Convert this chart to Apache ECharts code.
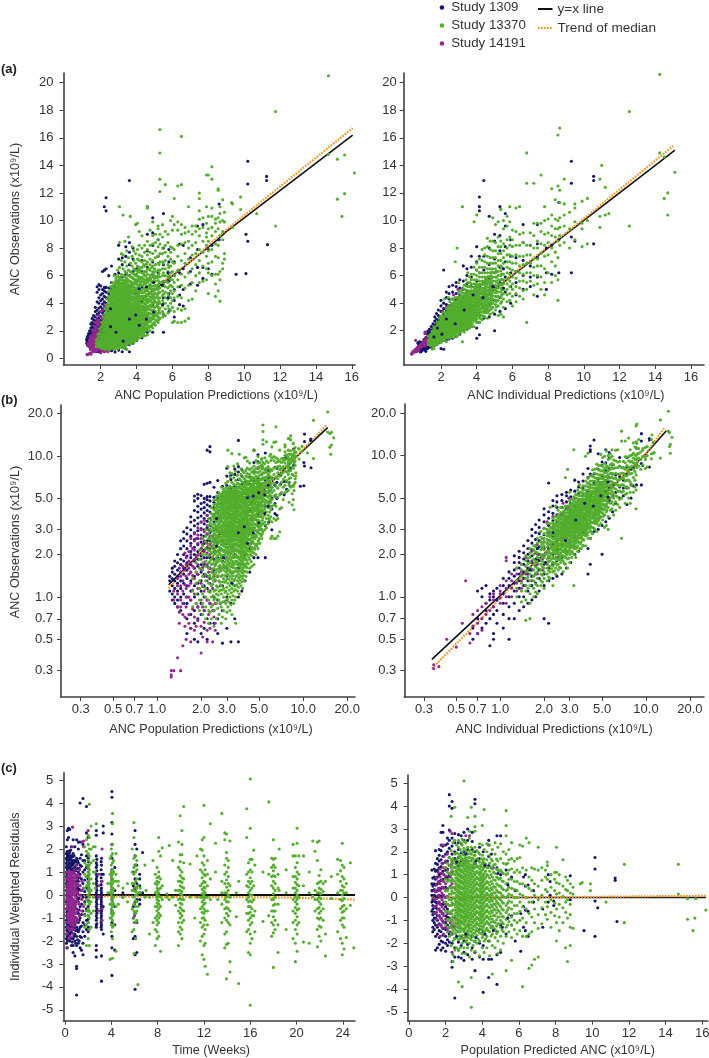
<!DOCTYPE html>
<html><head><meta charset="utf-8">
<style>html,body{margin:0;padding:0;background:#fff}#c{width:709px;height:1058px}</style>
<script src="https://cdn.jsdelivr.net/npm/echarts@6/dist/echarts.min.js"></script></head>
<body><div id="c"></div>
<script>
// Rows are [x, y, y, y ...].
const popObs1309=[
[1.22,1.1,1.3,1.4],[1.27,.95,1.05,1.2,1.35,1.5,1.6],[1.32,.9,1,1.15,1.3,1.45,1.65,1.8],[1.38,.85,.95,1.1,1.25,1.4,1.55,1.75,2],
[1.45,.8,1,1.15,1.3,1.5,1.7,1.85,2.2,2.5],[1.52,.9,1.05,1.25,1.45,1.6,1.8,2,2.3,2.6,2.9],[1.6,.55,.7,.9,1,1.2,1.35,1.55,1.75,1.95,2.2,2.5,2.8,3.1],
[1.7,.6,.75,.95,1.1,1.3,1.5,1.7,1.9,2.1,2.4,2.7,3,3.4,3.7],[1.8,.5,.65,.8,1,1.2,1.4,1.6,1.8,2,2.25,2.55,2.85,3.2,3.5,4.1,4.8,5.2],
[1.9,.48,.7,.85,1.05,1.25,1.45,1.65,1.85,2.1,2.35,2.6,2.95,3.3,3.65,4,4.4,5,5.35],[2,.55,.75,.9,1.1,1.3,1.5,1.7,1.95,2.2,2.45,2.75,3.05,3.4,3.75,4.2,4.6,5.25],
[2.1,.6,.8,1,1.2,1.45,1.7,1.9,2.15,2.4,2.7,3,3.3,3.6,3.95,4.3,4.7,5,6.3],[2.2,.5,.7,.95,1.15,1.4,1.65,1.9,2.2,2.5,2.8,3.1,3.45,3.8,4.1,4.5,4.9,5.15,6.4,11],
[2.3,.65,.9,1.1,1.35,1.6,1.9,2.2,2.5,2.85,3.2,3.6,4,4.4,4.8,5.15,6.5,10.7,11.65],[2.45,.65,.8,1,1.3,1.55,1.85,2.2,2.6,3,3.4,3.85,4.3,4.7,5.1,6],
[2.6,.55,.7,.95,1.4,1.9,2.4,3,3.5,4,4.5,5,5.5,6.7],[2.8,.47,.8,1.2,1.8,2.5,3.2,3.9,4.6,5.2,6.1],[3,.6,1,1.6,2.4,3.2,4,4.8,5.5,6.2,7.2,8.2],
[3.2,.48,.9,1.5,2.3,3.3,4.2,5.1,5.9,6.8,7.3],[3.4,.7,1.2,2,2.8,3.6,4.5,5.3,6.1,7.4,8.1],[3.6,.48,1,1.6,2.5,3.4,4.3,5.2,6,6.8,7.7,8.4,12.9],
[3.8,1.1,1.7,2.6,3.5,4.4,5.4,6.3,7.2,8],[4,1.3,2,2.9,3.8,4.7,5.6,6.5],[4.3,1.5,2.2,3.1,4.1,5.2,6.3,7.1],[4.6,1.9,2.7,3.6,4.6,5.7,6.6,7.8,9,11],
[4.9,1.9,2.9,3.9,5,6.1,7,8.2,9.1,10.2],[5.2,3,4,5.2,6.2,7.4,8.6],[5.5,1.9,3.2,4.4,5.6,6.8,8,10.5],[5.8,3.4,4.7,5.6,7,7.9],[6.1,3,4.2,5,6,7],[6.4,3.9,4.6,5.2,6.2,8.3],
[6.6,3.8,5,6.5,8.2],[7,5.4,6.3,7.3],[7.4,5.3,6.6,7.9,9.6],[7.7,5.8,6.6,9.7],[8,6.5,7.9],[8.2,6.1,8.2],[8.6,8.6,11.2],[9.55,6.1],[10.1,6.15,9],[10.2,8.5,12.65,14.3],[11.25,12.9,13.2],[11.3,8.25]];
const popObs1309Top=[[2.55,2.3,3.6],[2.85,1.9],[3.25,1.25],[3.6,2.85],[3.95,3.15],[4.15,2.4,5.05],[4.55,2.85,5.2],[4.95,3.35,5.5],[5.45,3.9,5.3],[5.75,4.4,6.2]];
const popObs14191=[
[1.25,.27,.28,.3],[1.3,.3,.95,1.1],[1.38,.37,.85,1.05,1.2,1.35],[1.45,.3,.85,.95,1.2,1.4,1.5],[1.5,.45,.75,.9,1.1,1.3,1.65],[1.58,.5,.85,1,1.15,1.4,1.7,1.9],
[1.65,.65,.75,1,1.2,1.45,1.6,1.8,2.1],[1.7,.48,.6,.95,1.25,1.5,1.75,2,2.3,2.6],[1.8,.58,.72,1.05,1.35,1.6,1.85,2.15,2.5,2.8],[1.9,.68,.85,1.15,1.45,1.7,2,2.4,2.75,3.1],
[2,.4,.62,.95,1.25,1.55,1.85,2.2,2.6,3,3.4],[2.1,.66,.8,1.1,1.4,1.75,2.1,2.5,2.9,3.5],[2.2,.48,.58,.95,1.3,1.7,2.05,2.4,2.8,3.2,3.8],[2.3,.6,.9,1.25,1.6,2,2.35,2.7,3,3.6],
[2.4,.48,.8,1.15,1.5,1.9,2.3,2.7],[2.5,.58,.65,.9,1.3,1.7,2.1,2.5,3.05],[2.7,.9,1.2,1.6,2.15],[3,.95,1.4,1.9,2.4],[3.3,1.5,2.2],[3.8,1.8,2.6,3.2],[4.4,2.4,3.6],
[1.42,.65,.78,1.6],[1.55,.62,.72,1.22,1.55,2.05],[1.75,.82,1.12,1.42,1.65,2.2],[1.85,.62,.9,1.25,1.5,1.95,2.6],[2.05,.52,.85,1.18,1.62,2.35],[2.25,.75,1.1,1.5,2.2,3],[2.45,.72,1.4,2.2]];
const popObs13370=[
[1.75,.85,1.1,1.35],[1.85,.9,1.05,1.25,1.5,1.75],[1.95,.8,.95,1.15,1.3,1.6,1.85,2.15],[2.05,.75,.9,1.05,1.2,1.4,1.55,1.75,2,2.3,2.6],
[2.15,.7,.85,1,1.15,1.3,1.45,1.65,1.8,2,2.2,2.45,2.7,3],[2.25,.65,.8,.95,1.1,1.25,1.4,1.6,1.75,1.95,2.15,2.35,2.6,2.85,3.2,3.6],
[2.35,.7,.85,1,1.2,1.35,1.5,1.7,1.85,2.05,2.25,2.45,2.7,2.95,3.25,3.5,3.9,4.3],[2.45,.62,.8,.95,1.1,1.3,1.45,1.6,1.8,2,2.15,2.35,2.55,2.8,3.05,3.3,3.6,3.85,4.15,4.5,4.85],
[2.55,.7,.9,1.05,1.2,1.4,1.55,1.75,1.9,2.1,2.3,2.5,2.7,2.9,3.15,3.4,3.65,3.95,4.25,4.55,4.9,5.2],[2.65,.75,.95,1.1,1.3,1.5,1.65,1.85,2.05,2.25,2.45,2.65,2.85,3.1,3.3,3.55,3.8,4.05,4.35,4.65,4.95,5.25,5.5],
[2.75,.65,.85,1.05,1.2,1.4,1.6,1.8,1.95,2.15,2.35,2.55,2.8,3,3.2,3.45,3.7,3.95,4.2,4.45,4.75,5.05,5.35,6],[2.85,.8,1,1.15,1.35,1.55,1.7,1.9,2.1,2.3,2.5,2.7,2.9,3.15,3.35,3.6,3.85,4.1,4.35,4.6,4.85,5.15,5.45,5.8],
[2.95,.7,.9,1.1,1.3,1.5,1.65,1.85,2.05,2.25,2.45,2.65,2.85,3.05,3.25,3.5,3.75,4,4.25,4.5,4.75,5,5.3,5.6,5.95,6.4],[3.05,.85,1.05,1.25,1.45,1.6,1.8,2,2.2,2.4,2.6,2.8,3,3.2,3.4,3.65,3.9,4.15,4.4,4.65,4.9,5.2,5.5,5.85,6.6,8.4,11],
[3.15,.8,1,1.2,1.4,1.55,1.75,1.95,2.15,2.35,2.55,2.75,2.95,3.15,3.35,3.6,3.85,4.1,4.35,4.6,4.85,5.1,5.4,5.7,6.1,7.6,7.1],[3.25,.75,.95,1.15,1.35,1.5,1.7,1.9,2.1,2.3,2.5,2.7,2.9,3.1,3.3,3.55,3.8,4.05,4.3,4.55,4.8,5.05,5.3,5.65,6,6.5,7.5,10.4],
[3.35,.9,1.1,1.3,1.5,1.7,1.9,2.1,2.3,2.5,2.7,2.9,3.1,3.3,3.5,3.75,4,4.25,4.5,4.75,5,5.25,5.55,5.9,6.3,7,8.5],[3.45,.65,1,1.2,1.4,1.6,1.8,2,2.2,2.4,2.6,2.8,3,3.2,3.45,3.7,3.95,4.2,4.45,4.7,4.95,5.2,5.5,5.8,6.2,6.7,7.8],
[3.55,1.1,1.3,1.5,1.7,1.9,2.1,2.3,2.5,2.7,2.9,3.1,3.35,3.6,3.85,4.1,4.35,4.6,4.85,5.1,5.35,5.65,6,6.4,7.3,8.8],[3.65,1.05,1.25,1.45,1.65,1.85,2.05,2.25,2.45,2.65,2.85,3.05,3.25,3.5,3.75,4,4.25,4.5,4.75,5,5.3,5.6,5.95,6.3,6.9,10.3],
[3.75,1.2,1.4,1.6,1.8,2,2.2,2.4,2.6,2.8,3,3.2,3.45,3.7,3.95,4.2,4.45,4.7,4.95,5.2,5.5,5.85,6.2,6.7,7.4,8.1],[3.85,1.15,1.35,1.55,1.75,1.95,2.15,2.35,2.55,2.75,2.95,3.15,3.4,3.65,3.9,4.15,4.4,4.65,4.9,5.15,5.45,5.75,6.1,6.5,7.1,7.8],
[3.95,1.3,1.5,1.7,1.9,2.1,2.3,2.5,2.7,2.9,3.1,3.35,3.6,3.85,4.1,4.35,4.6,4.85,5.1,5.4,5.7,6,6.4,6.9,7.6,9.7],[4.05,1.4,1.65,1.85,2.05,2.25,2.45,2.65,2.85,3.05,3.3,3.55,3.8,4.05,4.3,4.55,4.8,5.05,5.35,5.65,5.95,6.3,6.7,7.2,7.9,9.8],
[4.15,1.5,1.75,2,2.2,2.4,2.6,2.8,3,3.25,3.5,3.75,4,4.25,4.5,4.75,5,5.3,5.6,5.9,6.25,6.6,7.1,7.5,8.2,9.2],[4.3,1.6,1.85,2.1,2.3,2.55,2.8,3,3.25,3.5,3.75,4,4.25,4.5,4.75,5,5.3,5.6,5.9,6.2,6.6,7,7.4,8,8.9],
[4.45,1.65,1.95,2.25,2.5,2.75,3,3.25,3.5,3.75,4,4.25,4.5,4.8,5.1,5.4,5.7,6,6.3,6.7,7.1,7.7,8.2],[4.6,1.7,2.05,2.4,2.7,3,3.3,3.55,3.8,4.05,4.3,4.6,4.9,5.2,5.5,5.8,6.1,6.5,7,7.5,7.9,8.5,10.9,11],
[4.75,2,2.35,2.65,2.95,3.25,3.55,3.85,4.15,4.45,4.75,5.05,5.35,5.65,6,6.4,6.8,7.2,7.7,8.2,9.3],[4.9,2.2,2.5,2.85,3.15,3.45,3.75,4.05,4.35,4.65,4.95,5.25,5.55,5.9,6.3,6.7,7.1,7.6,8.3,8.9,9.9],
[5.05,2.4,2.8,3.1,3.4,3.75,4.1,4.4,4.7,5,5.3,5.6,5.95,6.3,6.8,7.3,7.8,8.4,9],[5.2,2.6,3,3.3,3.7,4,4.35,4.7,5,5.3,5.65,6,6.4,6.9,7.4,8.1,8.6,9.4,9.6],
[5.3,2.9,3.3,3.65,4,4.4,4.8,5.1,5.5,5.9,6.4,7,7.6,8.3,9,12.1,13,14.9,16.6],[5.45,3,3.4,3.8,4.2,4.55,4.9,5.25,5.6,6,6.5,7,7.6,8,8.8,9.7],[5.6,3.1,3.6,4,4.4,4.8,5.2,5.6,6,6.5,7.1,7.7,8.2,9.2,12.6],
[5.75,3.3,3.8,4.3,4.7,5.1,5.5,5.9,6.3,6.8,7.4,8.4,9],[5.9,3.5,4,4.4,4.9,5.3,5.7,6.2,6.7,7.2,7.7,8.1,10],[6,2.6,3.7,4.2,4.7,5.2,5.7,6.3,7,8,9.3,10.3],[6.1,2.7,3.4,4.4,4.9,5.5,6,6.9,7.9,9.7,11.6],
[6.3,2.6,3.6,4.5,5.2,5.7,6.4,7.4,8.2,9.3,9.9,12.5],[6.5,2.6,3.5,4.4,5.3,6.1,7.1,8.3,9,9.7,12.6,16.1],[6.7,2.7,3.6,5.1,5.9,6.9,7.6,8.4,9.1,9.5],[6.9,2.9,4.2,5.3,6.2,7.2,8,8.5,9.2,11],
[7.1,4.3,5.5,6.5,7.5,8.2,9,9.6],[7.3,4.9,6,6.8,7.6,8.4,9.2,9.6],[7.5,5.5,6.2,7.1,7.9,8.9,9.4,10.1,10.7,11.6,12],[7.7,5.6,6.7,7.7,8.5,9.5,10.2],[7.9,5.7,6.5,7.4,8.2,8.8,9.1,9.8,11,13.3],
[8,4.7,6.2,6.9,7.8,8.5,9.4,10.3,13.3],[8.2,6,7,7.9,8.9,9.5,10.3,10.9,13,13.9],[8.4,4.5,5.4,6.1,7.4,8.3,9.2,10.1,9.8],[8.55,4.9,6.1,7.3,8.2,9.4,10.2,12.2,12.3],[8.65,4.15,5.7,6.3,8.9,9.9,10.5,11],[8.8,6.5,6.9,8.6,9.2,10,11.5],
[8.9,7.2,7.6,9.9,10.6],[9.3,11.3],[9.35,9.5,11.2],[9.8,10.8,11.7],[10.7,10.5],[11.75,9.6,17.9],[14.7,14.8,20.5],[15.2,14.45,11.55],[15.45,10.3],[15.6,14.75,11.95],[16.15,13.45],
[2.3,.78,1.08,1.42,1.78,2.13,2.58,3.03,3.37],[2.4,.88,1.23,1.57,1.93,2.28,2.62,3.12,3.72],[2.5,.98,1.33,1.67,2.03,2.43,2.77,3.23,3.77,4.3],[2.6,.83,1.17,1.58,1.97,2.37,2.73,3.03,3.47,3.88,4.4,4.8],[2.7,.91,1.27,1.68,2.02,2.47,2.92,3.37,3.73,4.13,4.58,5.1],
[2.8,.72,1.12,1.43,1.77,2.17,2.58,3.02,3.43,3.97,4.27,4.72,5.3],[2.9,.93,1.27,1.62,1.98,2.37,2.78,3.22,3.68,4.07,4.55,5.02,5.62],[3,.78,1.17,1.53,1.88,2.28,2.72,3.12,3.58,4.03,4.42,4.88,5.38],[3.1,.92,1.33,1.68,2.07,2.48,2.87,3.28,3.72,4.27,4.73,5.28,5.9],[3.2,.88,1.28,1.63,2.03,2.43,2.83,3.23,3.67,4.22,4.72,5.23],
[3.3,1.02,1.42,1.78,2.18,2.58,2.97,3.42,3.88,4.38,4.92,5.47],[3.4,.95,1.33,1.72,2.13,2.53,2.93,3.37,3.83,4.33,4.83,5.4],[3.5,1.22,1.58,1.97,2.38,2.78,3.18,3.63,4.08,4.58,5.07,5.72],[3.6,1.17,1.55,1.93,2.33,2.73,3.13,3.58,4.03,4.53,5.03,5.58],[3.7,1.32,1.72,2.12,2.52,2.92,3.33,3.78,4.27,4.78,5.33,5.9],
[3.8,1.28,1.68,2.07,2.47,2.87,3.27,3.72,4.22,4.72,5.23,5.83],[3.9,1.42,1.82,2.22,2.62,3.02,3.42,3.88,4.38,4.88,5.42],[4,1.52,1.93,2.33,2.73,3.12,3.53,3.97,4.42,4.92,5.48,6.12],[4.1,1.62,2.02,2.43,2.83,3.22,3.67,4.13,4.62,5.12,5.72,6.4],[4.2,1.72,2.13,2.53,2.93,3.37,3.83,4.28,4.78,5.28,5.78,6.4],
[4.4,1.78,2.17,2.63,3.08,3.53,4.02,4.52,5.03,5.53,6.13,6.8],[4.55,2.2,2.62,3.12,3.62,4.12,4.62,5.08,5.65,6.3,6.85],[4.7,2.28,2.78,3.28,3.78,4.28,4.78,5.28,5.82,6.5],[4.85,2.38,2.95,3.45,3.95,4.48,4.98,5.52,6.1,6.6],[5,2.6,3.2,3.7,4.2,4.75,5.25,5.8,6.5],[5.25,2.8,3.5,4.15,4.8,5.45,6.15,6.8],[5.5,3.25,4,4.65,5.4,6.2,6.9],[5.8,3.6,4.5,5.2,6,6.6],
[2.42,1.02,1.38,1.72,2.08,2.47,2.93],[2.52,1.12,1.48,1.82,2.23,2.62,3.08,3.52,4.02],[2.62,1.03,1.42,1.78,2.13,2.57,2.93,3.22,3.67,4.12,4.6],[2.72,1.12,1.53,1.88,2.22,2.67,3.12,3.57,3.87,4.33,4.88],[2.82,.92,1.28,1.63,1.97,2.4,2.78,3.23,3.67,4.17,4.52,4.97,5.57],[2.92,1.08,1.42,1.77,2.15,2.55,2.95,3.42,3.87,4.28,4.78,5.22],
[3.02,.97,1.35,1.72,2.1,2.5,2.9,3.32,3.77,4.22,4.62,5.08,5.68],[3.12,1.12,1.52,1.87,2.27,2.67,3.07,3.47,3.92,4.47,4.93,5.48],[3.22,1.07,1.47,1.82,2.22,2.62,3.02,3.42,3.87,4.42,4.92,5.43],[3.32,1.22,1.62,1.98,2.38,2.78,3.18,3.62,4.08,4.58,5.12,5.67],[3.42,1.13,1.52,1.92,2.33,2.72,3.13,3.57,4.03,4.53,5.03,5.6],[3.52,1.42,1.78,2.17,2.58,2.98,3.38,3.83,4.28,4.78,5.27],
[3.62,1.37,1.75,2.13,2.53,2.93,3.33,3.78,4.23,4.73,5.23],[3.72,1.52,1.92,2.32,2.72,3.12,3.53,3.98,4.47,4.98,5.53],[3.82,1.48,1.88,2.27,2.67,3.07,3.47,3.92,4.42,4.92,5.43],[3.92,1.62,2.02,2.42,2.82,3.22,3.62,4.08,4.58,5.08,5.62],[4.02,1.72,2.13,2.53,2.93,3.32,3.73,4.17,4.62,5.12,5.68],[4.12,1.82,2.22,2.63,3.03,3.42,3.87,4.33,4.82,5.32,5.92],
[4.22,1.92,2.33,2.73,3.13,3.57,4.03,4.48,4.98,5.48],[4.35,2,2.42,2.88,3.33,3.78,4.27,4.77,5.28,5.78],[4.5,2.08,2.48,2.95,3.43,3.92,4.42,4.92,5.43,5.97],[4.65,2.18,2.6,3.1,3.58,4.08,4.58,5.08,5.62],[4.8,2.3,2.72,3.22,3.72,4.22,4.72,5.22,5.78],[4.95,2.5,3,3.5,4,4.52,5.02,5.58,6.15],[5.15,2.72,3.2,3.85,4.55,5.15,5.85]];
const indObs1309=[
[.65,.5,.6],[.7,.55,.7,1.1],[.75,.6,1.15,1],[.8,.65,.8,.9,1.2],[.85,.45,.7,.95,1.05],[.9,.5,.55,.75,.85,1,1.1],[.95,.65,.8,.95,1.15],[1.05,.6,.75,.9,1.05,1.2,1.35],[1.15,.5,.7,.85,1,1.2,1.35,1.5],
[1.25,.7,.9,1.1,1.25,1.4,1.55,1.75,1.95],[1.35,.8,1,1.15,1.3,1.45,1.6,1.75,1.9,2.1],[1.45,.85,1,1.2,1.35,1.5,1.7,1.85,2.05,2.3],[1.55,.9,1.1,1.3,1.45,1.6,1.8,2,2.2,2.5],[1.65,.95,1.2,1.4,1.55,1.75,1.95,2.15,2.4,2.7,3],
[1.75,1,1.25,1.45,1.65,1.85,2.05,2.3,2.55,2.85,3.25],[1.85,1.1,1.35,1.55,1.8,2,2.25,2.5,2.8,3.1,3.5],[2,.7,1.2,1.45,1.7,1.95,2.2,2.45,2.75,3.05,3.4,3.8,4.2],[2.15,.65,1.3,1.6,1.9,2.2,2.5,2.85,3.2,3.6,4,6.4],
[2.3,1.35,1.7,2,2.35,2.7,3.05,3.45,3.9,4.4,4.8],[2.45,1.4,1.8,2.15,2.55,2.95,3.35,3.8,4.3,4.7,5.2],[2.65,1.45,1.9,2.35,2.8,3.3,3.8,4.3,4.8,5.3],[2.85,1.6,2.1,2.6,3.1,3.7,4.2,4.7,5.2,5.5],[3.05,1.75,2.3,2.9,3.5,4.1,4.6,5.1,5.7],
[3.25,2,2.6,3.2,3.8,4.4,5,5.6,6.7],[3.45,2.1,2.8,3.5,4.1,4.8,5.4,6,6.5],[3.7,2.3,2.9,3.6,4.4,5.2,5.9,6.6,7.4],[4,1.45,2.2,3.1,3.9,4.8,5.6,6.4,7,8.1],[4.15,1.7,2.6,3.4,4.3,5.2,6.2,7.4,10.7,11,11.7],
[4.4,2.9,3.7,4.6,5.5,6.4,7.4,12.9],[4.7,3,4,4.9,5.8,6.8,8,10.3],[5,2,3.2,4.2,5.2,6.2,7.2,8.5,9],[5.3,3.4,4.4,5.5,6.6,7.8,8.9,11],[5.6,3.6,4.8,5.9,7,8.1,9.6,10.5],[5.9,4,5.2,6.2,7.4,8.6],
[6.2,4.6,5.5,6.3,7.3],[6.6,5,6,7.1,8.4,9.7],[7,5.2,5.9,6.7,8.2],[7.4,4.5,5.9,7.3,8.3,9.7],[7.9,5,6.2,8],[8.2,6.1,8.2],[8.6,6.2,8.6,11.3],[9.3,6.2,8.8,14.3,12.7],[9.5,8.5],[10.55,8.3,12.9,13.2]];
const indObs1309Top=[[1.6,1.55],[1.8,2.2],[2.05,1.75],[2.3,2.85],[2.8,2.5],[3.3,3.5],[3.8,4.6],[4.35,4.4],[4.9,5.2],[5.5,5.1,6.5]];
const indObs14191=[
[.35,.31,.33],[.38,.32],[.43,.5],[.5,.44],[.55,.65],[.58,1.3],[.62,.55,.47],[.65,.62,.75],[.7,.55,.65,.8],[.75,.58,.7,.85],[.8,.75,.9],[.85,.8,1],[.9,.85,.95,1.05],[1,.9,.98,1.05,1.1,1.2],[1.1,.9,1,1.15,1.3,1.8,1.9],
[1.2,1,1.15,1.3,1.45],[1.3,1.1,1.25,1.45,1.6],[1.4,1.15,1.3,1.5,1.7],[1.5,1.2,1.45,1.65,1.9],[1.65,1.3,1.55,1.8,2.1],[1.8,1.45,1.7,2,2.35],[1.95,1.55,1.85,2.2,2.6],[2.1,1.7,2.05,2.4,2.85,3.4],[2.3,1.75,2.15,2.6,3.1,3.7],[2.5,1.9,2.35,2.85,3.4,3.8],[2.7,2.1,2.6,3.2,3.9,4.6],[2.95,2.4,3,3.6,4.3,5],[3.3,2.6,3.2,3.9],[3.8,2.9,3.6,4.4],[4.6,3.6,4.4]];
const indObs13370=[
[1.3,1,1.15,1.3,1.6],[1.4,.92,1.1,1.25,1.4,1.55,1.7],[1.5,.68,.95,1.1,1.2,1.35,1.5,1.65,1.8,1.95],[1.6,.7,.9,1.05,1.2,1.3,1.45,1.6,1.75,1.9,2.05,2.2],[1.7,1,1.15,1.3,1.4,1.55,1.7,1.85,2,2.15,2.3],[1.8,1.05,1.2,1.35,1.5,1.6,1.75,1.9,2.05,2.2,2.4,2.6],
[1.9,1.2,1.3,1.45,1.55,1.7,1.85,2,2.15,2.3,2.45,2.65,2.9],[2,1.15,1.35,1.5,1.6,1.75,1.9,2,2.15,2.3,2.45,2.6,2.8,3.05],[2.1,1.3,1.45,1.6,1.7,1.85,2,2.1,2.25,2.4,2.55,2.7,2.85,3,3.3],[2.2,1.35,1.5,1.65,1.8,1.95,2.05,2.2,2.35,2.5,2.65,2.8,2.95,3.1,3.3,4.3],
[2.3,1.2,1.5,1.65,1.75,1.9,2.05,2.15,2.3,2.45,2.6,2.75,2.9,3.05,3.2,3.35,3.6],[2.4,1.45,1.6,1.75,1.9,2,2.15,2.3,2.45,2.55,2.7,2.85,3,3.15,3.3,3.5,3.7,4.4],[2.5,1.55,1.7,1.85,2,2.1,2.25,2.4,2.55,2.7,2.85,3,3.15,3.3,3.45,3.6,3.8,4.1],[2.6,1.6,1.75,1.9,2.05,2.2,2.35,2.5,2.65,2.8,2.95,3.1,3.25,3.4,3.55,3.7,3.95,4.3],
[2.7,1.5,1.8,1.95,2.1,2.25,2.4,2.55,2.7,2.85,3,3.15,3.3,3.45,3.6,3.8,4,4.25],[2.8,1.7,1.9,2.05,2.2,2.35,2.5,2.65,2.8,2.95,3.1,3.25,3.4,3.55,3.7,3.9,4.1,4.4,7],[2.9,1.6,1.85,2.05,2.25,2.4,2.55,2.7,2.85,3,3.15,3.3,3.45,3.6,3.75,3.95,4.15,4.4,8],[3,1.75,2,2.2,2.35,2.5,2.65,2.8,2.95,3.1,3.25,3.4,3.55,3.7,3.85,4,4.2,4.45,4.8,5.5],
[3.1,1.9,2.1,2.3,2.45,2.6,2.75,2.9,3.05,3.2,3.35,3.5,3.65,3.8,3.95,4.15,4.35,4.6,4.9],[3.2,1.2,2,2.2,2.35,2.5,2.7,2.85,3,3.15,3.3,3.45,3.6,3.75,3.9,4.05,4.25,4.5,4.75,5.1,11],[3.3,1.9,2.2,2.4,2.55,2.7,2.9,3.05,3.2,3.35,3.5,3.65,3.8,3.95,4.1,4.3,4.5,4.7,5,5.3],[3.4,2.1,2.3,2.5,2.7,2.85,3,3.2,3.35,3.5,3.65,3.8,3.95,4.1,4.3,4.5,4.7,4.95,5.25,5.7],
[3.5,2.2,2.4,2.6,2.75,2.95,3.1,3.3,3.45,3.6,3.8,3.95,4.1,4.3,4.5,4.7,4.9,5.2,5.5,6.2],[3.6,2.2,2.45,2.65,2.85,3.05,3.25,3.4,3.6,3.75,3.95,4.1,4.3,4.5,4.7,4.9,5.2,5.5,5.9],[3.7,2.3,2.55,2.75,2.95,3.15,3.35,3.55,3.7,3.9,4.1,4.3,4.5,4.7,4.9,5.15,5.4,5.7,6.1],[3.85,2.3,2.7,2.9,3.1,3.3,3.5,3.7,3.9,4.1,4.3,4.5,4.7,4.9,5.15,5.4,5.7,6.1,6.6,9.9],
[4,2.6,2.85,3.1,3.3,3.5,3.7,3.9,4.1,4.3,4.5,4.7,4.9,5.15,5.4,5.7,6,6.4,6.9,10.4],[4.15,2.6,2.95,3.2,3.4,3.65,3.85,4.05,4.25,4.45,4.65,4.85,5.1,5.35,5.6,5.9,6.2,6.6,7.2],[4.3,2.8,3.1,3.35,3.6,3.8,4,4.2,4.4,4.65,4.85,5.1,5.35,5.6,5.9,6.2,6.6,7.1,7.9],[4.45,3,3.3,3.5,3.75,4,4.2,4.4,4.65,4.9,5.1,5.35,5.6,5.9,6.2,6.6,7,7.5,8],
[4.6,2.9,3.3,3.6,3.9,4.15,4.4,4.65,4.9,5.15,5.4,5.65,5.9,6.2,6.5,6.9,7.4,8.1,8.7],[4.75,3.2,3.5,3.8,4.1,4.35,4.6,4.85,5.1,5.35,5.6,5.9,6.2,6.5,6.9,7.3,7.9,8.5],[4.9,3.3,3.7,4,4.3,4.55,4.8,5.05,5.3,5.6,5.9,6.2,6.5,6.9,7.3,7.8,8.5,10.2],[5.05,3.5,3.9,4.2,4.5,4.75,5,5.3,5.6,5.9,6.2,6.5,6.9,7.3,7.8,8.4,9.7],
[5.2,3.1,3.8,4.2,4.5,4.8,5.1,5.4,5.7,6,6.3,6.7,7.1,7.6,8.1,8.8,9.9],[5.35,3.2,4,4.4,4.8,5.1,5.4,5.7,6,6.35,6.7,7.1,7.6,8.1,8.5,10.8],[5.5,3,3.7,4.3,4.7,5,5.4,5.7,6.1,6.5,6.9,7.3,7.8,8.3,9.4,10],[5.7,4.1,4.6,5,5.4,5.8,6.2,6.6,7,7.5,8,8.6,9.6,10.3],[5.85,4.2,4.7,5.2,5.6,6.1,6.5,7,7.5,8.2,8.8,9.9,11],
[6,3.8,4.5,5,5.4,5.9,6.4,6.9,7.4,8.1,8.6,9.3],[6.2,4.1,4.7,5.2,5.8,6.3,6.9,7.5,8.2,9.2,10.9],[6.4,4.5,5.1,5.6,6.2,6.7,7.4,8.2,9,11],[6.6,4.3,4.9,5.6,6.1,6.8,7.4,8.4,9.1],[6.8,2.6,5,5.5,6.2,6.9,7.5,8.2,12.7,14.9],[7,5.6,6.2,6.9,7.5,8.2,9.1],[7.2,4.6,5.3,6,6.6,7.2,8,8.9,9.8,12.7],
[7.4,5.4,6,6.7,7.2,8,8.5,9.8],[7.6,5,5.9,6.7,7.6,8.3,9.2,9.8,13.3],[7.8,4.6,5.5,6.5,7.4,8.2,9,11,10],[8,6.2,7.5,8.4,9.1,10.1],[8.2,5.5,7,8,8.9,9.6,10.4,12.3],[8.4,6,6.7,7.7,8.8,9.4,10.1,11.5],[8.55,4.2,5.7,7.3,8.5,9.4,10,12.5,16.2],[8.65,8.2,8.9,9.5,10.2,11.3,12.2,16.7],[8.9,8.4,9.6,10.4,11.2,13],
[9.2,8,9.4,10.6],[9.5,8.6,9.9,10.9,11.2],[9.9,8.1,9.4,9.8,11.4],[10.2,8.3,10,11.6],[10.9,9.5,10.3,13],[11,14],[11.2,12.4,10.4],[11.4,10.5],[12.55,9.6,17.9],[14.25,14.9,20.6],[14.5,14.6,11.6],[14.7,10.4,12],[15.1,13.5],
[1.55,1.15,1.38,1.53,1.72,1.88],[1.75,1.08,1.23,1.47,1.63,1.78,2.08,2.27],[1.95,1.27,1.42,1.63,1.78,1.93,2.22,2.38,2.58],[2.15,1.38,1.53,1.78,1.92,2.12,2.32,2.48,2.72,2.92],[2.35,1.53,1.72,1.87,2.08,2.22,2.42,2.62,2.78,2.98,3.22],[2.55,1.62,1.83,1.98,2.17,2.32,2.53,2.72,2.92,3.12,3.37,3.62],
[2.75,1.73,1.92,2.13,2.33,2.52,2.73,2.92,3.08,3.27,3.52,3.72,3.98],[2.95,1.88,2.12,2.32,2.53,2.72,2.93,3.12,3.33,3.52,3.73,3.92,4.13],[3.15,2.03,2.27,2.48,2.68,2.87,3.08,3.28,3.48,3.68,3.88,4.12,4.38],[3.35,2.23,2.47,2.67,2.88,3.07,3.28,3.48,3.68,3.88,4.08,4.32,4.58],[3.55,2.38,2.62,2.83,3.02,3.23,3.47,3.67,3.88,4.07,4.28,4.52,4.78],
[3.75,2.52,2.78,3.02,3.23,3.47,3.68,3.88,4.13,4.38,4.62,4.88],[3.95,2.73,3,3.22,3.48,3.68,3.92,4.17,4.42,4.68,4.98,5.28],[4.2,2.88,3.12,3.38,3.62,3.92,4.18,4.43,4.72,5.03,5.38],[4.4,3.05,3.42,3.68,3.93,4.22,4.52,4.78,5.05,5.42],[4.65,3.42,3.78,4.02,4.32,4.6,4.88,5.18,5.52,5.92],[4.85,3.62,3.98,4.22,4.5,4.88,5.18,5.48,5.82,6.28],[5.1,3.72,4.12,4.45,4.88,5.2,5.53,5.88,6.32],[5.4,4.12,4.58,4.95,5.32,5.72,6.12,6.62],
[2.25,1.58,1.85,2.02,2.27,2.42,2.73],[2.45,1.68,1.83,2.07,2.23,2.38,2.63,2.77,2.93,3.23],[2.65,1.83,1.97,2.13,2.28,2.43,2.58,2.73,2.88,3.03,3.33],[2.85,1.98,2.13,2.28,2.43,2.58,2.73,2.88,3.03,3.18,3.33,3.48],[3.05,2.08,2.23,2.38,2.58,2.73,2.88,3.03,3.18,3.33,3.48,3.63,3.78],[3.25,2.28,2.43,2.58,2.78,2.93,3.08,3.23,3.38,3.53,3.68,3.83,3.98,4.18],[3.45,2.43,2.62,2.78,2.98,3.13,3.33,3.53,3.73,3.93,4.13,4.33],[3.65,2.58,2.73,2.93,3.13,3.33,3.53,3.73,3.93,4.18,4.38,4.58],[3.9,2.78,3,3.2,3.4,3.6,3.8,4.03,4.23,4.43,4.63,4.83,5.03],[4.1,3.08,3.3,3.52,3.75,3.95,4.15,4.38,4.58,4.78,5,5.25],[4.5,3.4,3.62,3.85,4.1,4.3,4.55,4.75,5,5.25,5.5,5.75],[4.8,3.65,3.95,4.2,4.45,4.7,4.95,5.2,5.45,5.75,6]];
const timeRes1309=[
[.12,-2.1,-1.9,-1.7,-1.4,-1.1,-.9,-.6,-.3,0,.2,.5,.8,1,1.2,1.4,1.6,1.8,2.1],[.2,-2.3,-2,-1.8,-1.5,-1.2,-1,-.7,-.4,-.1,.1,.4,.6,.9,1.1,1.3,1.5,1.7,1.9,2.4,2.8],[.3,-1.9,-1.6,-1.3,-1,-.8,-.5,-.2,0,.3,.5,.7,1,1.2,1.5,1.7,1.9,2.5,2.9],[.4,-2,-1.7,-1.4,-1.1,-.7,-.3,.1,.4,.7,1,1.2,1.4,1.6,1.85,2.85],[.55,-2.2,-1.9,-1.5,-1.2,-.8,-.4,0,.3,.6,.9,1.1,1.3,1.5,1.7,2.1],
[.7,-2.5,-2.2,-1.9,-1.5,-1.1,-.7,-.2,.2,.6,1,1.3,1.5,1.8,2.4],[.85,-2.65,-2,-1.7,-1.3,-1,-.5,0,.5,.9,1.2,1.5,2.1],[1,-4.35,-3.2,-3.1,-2.2,-1.8,-1.4,-1,-.6,-.1,.4,.8,1.3,1.6,2.4],[1.15,-2.1,-1.6,-1.2,-.8,-.3,.2,.6,1,1.4,2,2.3],[1.3,-2.3,-1.8,-1.4,-1,-.5,0,.4,.9,1.3,1.6,2.3,4],[1.55,-2.6,-2.1,-1.6,-1.2,-.7,-.1,.5,1,1.5,2.2,4.2],
[1.85,-1.5,-1.1,-.6,-.1,.3,.8,1.2,1.7,2.7,3.85],[2,-1.6,-1.2,-.9,-.5,0,.4,.7,1,1.3,1.6,2.5],[2.7,-2.7,-2.4,-2.2,-1.4,-1.3,-1.1,-.9,-.7,-.5,-.3,-.1,.1,.3,.5,.7,.9,1.2,1.4,1.7,2.6,2.8],[3.15,-3.75,-2.65,-1.5,-1.3,-1.1,-.9,-.7,-.5,-.3,-.1,.1,.3,.6,.9,1.3,1.6],[3.3,-1.7,-.5,.9,2.7,3],
[4.05,-3.5,-2.3,-1.8,-1.2,-.7,-.2,.3,.7,1.1,1.6,2.2,2.65,3.15,4.25,4.5],[4.3,-2.4,-1.3,-.5,.2,1.2],[5,-.1,.1],[5.9,-1.9,-1,-.5,.4,1],[6.05,-4.1,-2.6,-1.8,-.8,-.3,.2,.7,1.3,1.7,2.2,2.8],[6.2,-2.5,-1.2,-.2,.5,1.3,2],[6.45,-.4,-.2,.1,.4,.7,.9],[6.7,.1,1.85],
[.16,-1.55,-1.25,-.75,-.2,.35,.65,.95,1.3,1.55,1.8],[.25,-1.75,-1.35,-.85,-.55,-.25,.25,.75,1.25,1.65],[.35,-1.45,-1.15,-.65,-.1,.6,1.1,1.35,1.75],[.48,-1.6,-1.3,-.95,-.55,-.1,.2,.8,1.25,1.55,1.95],[.62,-2.05,-1.65,-1.35,-.95,-.45,.1,.45,.75,1.15,1.4,1.65],[.78,-1.8,-1.45,-1.15,-.75,-.3,.35,.75,1.1,1.4,1.7],[.92,-2.1,-1.55,-1.2,-.8,-.35,.2,.6,1.05,1.45],[1.08,-1.95,-1.5,-1.1,-.7,-.2,.3,.7,1.15,1.5],[1.22,-2,-1.5,-1.1,-.65,-.15,.25,.75,1.15],[1.42,-2.4,-1.85,-1.35,-.85,-.4,.2,.7,1.25,1.75],[1.7,-1.8,-1.3,-.85,-.3,.15,.65,1.1,1.5],[2.02,-1.4,-1.05,-.7,-.25,.2,.55,.85,1.15,1.45],[2.75,-1.25,-1,-.8,-.6,-.4,-.2,0,.2,.4,.6,.8,1.05,1.3,1.55],[3.12,-1.4,-1.2,-1,-.8,-.6,-.4,-.2,0,.2,.45,.75,1.1,1.45]];
const timeRes14191=[
[.15,-2.3,-1.7,-1.2,-.9,-.6,-.4,-.2,0,.2,.4,.7,1],[.25,-1.4,-1,-.8,-.5,-.3,-.1,.1,.3,.5,.8],[.35,-1.9,-1.5,-1.1,-.85,-.6,-.35,-.15,.05,.25,.45,.7,1.05],[.45,-1.8,-1.2,-.9,-.7,-.45,-.25,0,.2,.4,.6,.9],[.55,-1.5,-1.1,-.8,-.55,-.3,-.1,.1,.3,.55,.8],
[.65,-1.7,-1.3,-1,-.7,-.4,-.2,.05,.25,.5,.75,1,2.1,2.95],[.75,-1.5,-1.05,-.7,-.45,-.2,.1,.35,.6,.95],[.85,-1.35,-.95,-.6,-.3,0,.25,.5,.8,1.1],[.95,-1.2,-.8,-.4,-.1,.2,.5,.8,1.3],[1.1,-1.1,-.7,-.3,.1,.5,.9],[1.25,-.9,-.4,0,.4,.8,1.1],[1.45,-.7,-.2,.2,.6,2.3],[1.6,-.5,.3,2.1,2.35],[2,.3,.6,1.2,2.8],[2.9,-.7,-.1,.4,.9],[3.2,-1.1,-.6,.6,2],[6,-1.2,-.9,-.4,.3],
[.3,-1.2,-.9,-.65,-.4,-.2,.15,.4,.65,.95],[.4,-1.55,-1,-.75,-.5,-.3,.1,.3,.55,.8],[.5,-1.3,-.95,-.65,-.4,-.15,.05,.25,.5,.7,.95],[.6,-1.45,-1.15,-.85,-.6,-.35,-.15,.15,.4,.65,.9],[.7,-1.25,-.9,-.6,-.3,0,.2,.45,.7],[.8,-1.1,-.8,-.5,-.25,.05,.3,.6,.9],[1,-1,-.65,-.25,.1,.4,.7]];
const timeRes13370=[
[1.7,-1.4,-.9,-.4,.3,.9,1.4,2.1],[1.85,-2.2,-1.3,-.7,-.2,.4,.8,1.3,1.9,2.4],[2,-1.9,-1.2,-.9,-.6,-.3,0,.2,.4,.6,.8,1,1.2,1.5,1.8,2.2,2.6],[2.1,-2.2,-1.5,-1,-.7,-.4,-.1,.1,.3,.5,.7,.9,1.1,1.3,1.7,2,2.5,3.95],[2.25,-1.4,-.8,-.3,.2,.7,1.4,2,3],[2.45,-.7,-.1,.5,1,1.5,2.1],[2.6,2.1,.3,1],[2.7,3.1],
[3.9,-2.8,-1,-.4,.1,.5,.9,1.6],[4,-1.6,-1.3,-1,-.8,-.6,-.4,-.2,0,.2,.4,.6,.8,1,1.3,1.7,2],[4.1,-2.75,-1.9,-1.4,-1.1,-.9,-.7,-.5,-.3,-.1,.1,.3,.5,.7,.9,1.1,1.4,1.8,2.2,3.1,3.55],[4.2,-1.3,-.8,-.4,-.1,.25,.6,1,1.5],[4.4,-2.45,-.5,.6,.9,1.8],[4.6,.6,-.4,.4],[3.7,.5,.1],[5,.3,-.1],[5.4,-.3,.5],
[5.8,-1.6,-.6,.2,.5,1,2],[5.95,-2.55,-1.5,-1,-.7,-.4,-.1,.2,.5,.9,1.2,1.6,2.5,3.15],[6.1,-1.9,-1.2,-.8,-.5,-.25,0,.15,.35,.6,1,1.3,1.7],[6.2,-1.1,-.7,-.3,0,.3,.7,1.1,1.5],[6.3,-3.9,-.5,.1,.4],[6.5,.1,.3],[6.9,1.3,-.1],[7,.2],[7.3,-1.7,-.1],[7.6,1.5,-1.2],
[7.8,-2.2,-1.5,-1,-.5,.1,.5,.9],[7.95,-1.9,-1.6,-1.3,-1.1,-.9,-.7,-.5,-.35,-.2,-.1,0,.15,.3,.45,.6,.75,1.2],[8.1,-1.8,-1.2,-1,-.8,-.6,-.4,-.25,-.05,.1,.25,.55,.8,1,1.9,2.5],[8.25,-2.45,-.9,-.5,-.1,.3,.7,1.7],[8.4,-.2,.4,2.05],[8.8,-.1,.05],[9,-.2,2.15],[9.3,-.1,1.5],[9.55,-.45,.2],
[9.8,-2.2,-1.6,-1.2,-.7,-.2,.2,.6,1.2,2.3],[9.95,-1.7,-1.4,-1,-.8,-.55,-.35,-.15,.05,.2,.4,.6,.85,1.1,1.45,1.75,3.45],[10.1,-1.9,-1.5,-1.2,-.9,-.65,-.4,-.2,0,.15,.35,.55,.75,1,1.75,2.2,2.8],[10.25,-1.1,-.7,-.2,.3,.7,1.4,3.85],[10.8,-.1,1.35],[11.2,-1],[11.4,-.1,1.7],
[11.7,-2,-1.2,-.6,-.1,.4,1.1,2],[11.85,-2.6,-1.8,-1.4,-1,-.75,-.5,-.3,-.1,.05,.25,.5,.75,1,1.4,1.95,2.4],[12,-2.8,-2.2,-1.7,-1.3,-1,-.8,-.6,-.4,-.2,0,.15,.35,.6,.9,1.3,1.7,2.5,3.9],[12.1,-3.1,-2.1,-1.5,-1.1,-.7,-.35,-.1,.1,.3,.55,.85,1.1],[12.3,-3.45,-1.3,-.7,-.1,.4,.9,1.5],[12.55,-.2,.7,3.1],[13,2.25,1],[13.2,-.2],
[13.55,-1.2,-.4,.1,.6,3.55],[13.8,-2.3,-1.7,-1,-.6,-.2,.1,.5,.9,1.3,2.4,2.7],[13.95,-3.65,-2.15,-1.6,-1.1,-.8,-.55,-.3,-.1,.1,.35,.65,1,1.6,1.85,2.65],[14.1,-2.1,-1.2,-.9,-.6,-.3,0,.2,.5,.8,1.2,1.5],[14.25,-3.35,-2.9,-1.3,-.7,-.1,.4,2.35],[14.8,-.95,.1],[15,-3.85,.6],
[15.7,-1.6,-.8,-.2,.4,.9,2.5,3.75],[15.85,-2.5,-1.5,-1.1,-.8,-.5,-.3,-.1,.1,.35,.6,1,1.4],[16,-4.8,-2.6,-2.1,-1.7,-1.3,-1,-.75,-.5,-.25,0,.2,.5,.75,1.1,1.55,2.9,5.05],[16.15,-1.9,-1.2,-.9,-.6,-.3,0,.3,.6,1,1.55],[16.3,-.9,-.2,.4,1.95],[16.4,-1.6,-.7,1.3],[17.1,-1.15,1],[17.6,-.9,.9,4.05],
[17.85,-1.8,-1.2,-.7,-.2,.4,.8,1.2,1.6],[18,-3.15,-1.65,-1.3,-.95,-.7,-.45,-.2,.05,.3,.6,.85,1.05,1.3,1.55,2.4],[18.15,-1.5,-1.1,-.7,-.4,-.1,.2,.5,.8,1.2,1.6],[18.4,-2.5,-1.3,-.4,.3,.9],[18.5,.2,2],[19.1,-1.5,.1,1.1],
[19.7,-1.9,-1.2,-.7,-.2,.3,.8,1.7,2.2],[19.9,-2.9,-2.1,-1.5,-1.1,-.8,-.55,-.3,-.1,.1,.3,.55,.8,1.2,1.7],[20.05,-2.45,-1.7,-1.3,-.95,-.65,-.4,-.2,0,.2,.45,.7,1,1.4,2.25,2.9],[20.2,-1.2,-.6,-.1,.4,.9,1.7],[20.6,-2.05,.4,1.7],[21.1,-2.1,.1,1],[21.4,-.05,2.35],
[21.6,-.7,-.2,.2,1.9],[21.8,-2.25,-1.5,-1,-.6,-.2,.1,.5,1.5,2.3],[21.95,-1.8,-1.35,-1.05,-.8,-.55,-.3,-.1,.1,.3,.55,.85,2.35],[22.1,-2,-1.4,-1,-.7,-.4,-.15,.05,.25,.6,1.1],[22.3,-1.1,-.6,.15,.5],[22.5,-2.65,-1.7,.6],[23,.8,-.15],
[23.55,-1.6,.1,.9,1.55],[23.8,-1.9,-1.1,-.6,-.2,.2,.6,1.05,1.5],[23.95,-2.6,-2.1,-1.3,-1,-.75,-.5,-.25,0,.2,.4,.8,1.3,2.25],[24.1,-2.35,-1.4,-1,-.7,-.45,-.15,.1,.35,.7,1.2],[24.3,-1.85,-.6,.1,.5],[24.65,-.45,1.4],[24.95,-2.3],[25.3,-1.2]];
const predRes1309=[
[1.25,-.6,-.2,.1,.3,.6,1.2],[1.3,-1.5,-1.3,-1,-.75,-.5,-.35,-.1,.3,.5,.85],[1.38,-1.4,-1.1,-.9,-.65,-.4,-.15,.1,.35,.6,.9,1.25],[1.45,-2.3,-1.7,-1.2,-.9,-.7,-.45,-.2,.05,.25,.55,.8,1.15,1.5,2.05],[1.55,-2.2,-1.6,-1.3,-1,-.8,-.5,-.25,0,.3,.6,.9,1.2,1.45,1.7],
[1.65,-2.05,-1.75,-1.45,-1.15,-.8,-.5,-.2,.1,.4,.7,1,1.3,1.6,1.85,2.1],[1.75,-2.3,-1.9,-1.5,-1.2,-.9,-.6,-.3,.05,.4,.75,1.05,1.35,1.65,2.05,2.3,2.85],[1.85,-2.2,-1.95,-1.65,-1.35,-1.05,-.7,-.3,.1,.45,.8,1.15,1.5,1.8,2.25,3.15,2.85],[2,-2.35,-2,-1.7,-1.4,-1.1,-.8,-.4,0,.45,.85,1.2,1.55,1.9,2.3],[2.1,-2.1,-1.85,-1.5,-1.2,-.85,-.5,.35,.9,1.25,1.6,2,2.35,2.6],
[2.2,-1.95,-1.6,-1.3,-.9,1,1.4,1.75,2.15,2.5,2.95,4,4.5],[2.35,-3.05,-2.8,-2,-1.6,-1.2,1.15,1.5,1.9,2.25,2.6,3.9,4.2],[2.5,-4.4,-2.6,-2.2,-1.8,-1.3,1.3,1.7,2,2.4,2.8],[2.7,-2.6,-2.3,-1.95,-1.5,1.4,1.75,2.1,2.4,2.75],[2.85,-2.65,-2.1,-1.7,1.6,1.95,2.35,2.7],[3,-2.75,-2.4,-1.9,-1.4,1.5,2,2.5,2.85],[3.2,-2.5,-2.05,-1.6,1.6,2.1,2.5,3],[3.45,-2.7,-2.2,-1.7,1.3,1.7,2.1,2.45,2.85],[3.6,-3.2,-2.4,-1.9,1.5,2,4.3,4.1],
[3.85,-2.6,-2,-1.4,1.7,2.2],[4.05,-4.15,-2.7,-2.1,-1.5,1.5,2],[4.35,-3.5,-2.7,-1.9,1.4,1.8,2.3,2.5],[4.5,-2.7,-1.3,1.3,1.9],[4.8,-3.8,-2.5,-1.5,1.3,2.7],[5,-2.4,-1.2,1,2.7],[5.3,-1.6,1.2],[5.6,-1.2,-.8,.9],[5.8,-1.9,.3],[6.1,-2.35,-.7],[6.25,-1.3,-.4,.9],[6.35,-1.45,-.55,.5,1],[6.5,-1.7,-.6,.55],[6.8,-.2,.3],[7.3,-1.3,-.5],[7.6,1,-.2],[7.7,.7,.1],[7.9,-.15,-.35],[8.8,.95,-.1],[9.55,-1.45],[10.15,-1.7,-.15,1.25,1.75],[10.3,-.45],[11.25,.75,.85],[11.35,-1.05]];
const predRes1309Top=[[2.6,-1.7,1.55],[3.1,-1.6,1.9],[3.65,-1.75,1.6],[4.15,-1.6,1.4],[4.6,-1.45],[5.1,-1.3],[5.4,-.9,.55],[4.85,1.05]];
const predRes14191=[
[1.4,-.7,-.4,-.1,.3],[1.5,-.95,-.65,-.35,-.05,.25,.55,.85],[1.6,-1.2,-.8,-.5,-.2,.1,.4,.7,1.1],[1.7,-1.7,-1.2,-.9,-.6,-.3,0,.3,.6,.9,1.25],[1.8,-1.3,-1,-.7,-.4,-.1,.2,.45,.75,1.05,1.5,2.3],[1.9,-1.6,-1.1,-.8,-.5,-.2,.1,.4,.7,1,1.3,1.8,2.3],[2,-1.3,-.95,-.6,-.3,0,.3,.6,.95,1.3,1.6],
[2.1,-1.4,-1,-.7,-.3,.05,.4,.8,1.2,1.9],[2.25,-1.5,-1.1,-.7,.5,.9,1.4,2.9],[2.35,-2.4,-1.3,-1,.6,1.1,1.6,2.8],[2.5,-1.25,-.9,.4,1.3],[2.7,-1.1,1.5],[3.1,-1.7,1.6,2.7],[3.3,2.7,-1.2],[4,.9],[4.6,1.3]];
const predRes13370=[
[2,-1.2,-.6,-.2,.3,.8,1.3],[2.1,-1.5,-1,-.6,-.3,0,.3,.7,1.1,1.5],[2.2,-1.7,-1.3,-.95,-.65,-.35,-.1,.15,.45,.75,1.05,1.4,1.75],[2.3,-2.1,-1.6,-1.2,-.9,-.6,-.35,-.1,.15,.4,.7,1,1.3,1.65,2.05,3.55],[2.4,-2.8,-2.5,-1.9,-1.5,-1.15,-.85,-.55,-.3,-.05,.2,.45,.75,1.05,1.35,1.7,2.4],[2.5,-2.3,-1.8,-1.4,-1.1,-.8,-.55,-.3,-.05,.2,.45,.7,1,1.3,1.6,1.9,2.5,3.95],
[2.6,-2.2,-1.75,-1.45,-1.15,-.9,-.65,-.4,-.15,.1,.35,.6,.85,1.1,1.35,1.65,1.95,2.3],[2.7,-3.7,-2.3,-1.85,-1.5,-1.2,-.95,-.7,-.45,-.2,.05,.3,.55,.8,1.05,1.3,1.6,1.9,2.2,2.5],[2.8,-2.2,-1.8,-1.5,-1.25,-1,-.75,-.5,-.25,0,.25,.5,.75,1,1.25,1.5,1.8,2.1,2.4],[2.9,-3.9,-2.45,-2,-1.65,-1.35,-1.05,-.8,-.55,-.3,-.05,.2,.45,.7,.95,1.2,1.45,1.7,2,2.3,2.55],
[3,-2.2,-1.8,-1.5,-1.2,-.95,-.7,-.45,-.2,.05,.3,.55,.8,1.05,1.3,1.55,1.85,2.15,2.45,5.1],[3.1,-2.45,-1.95,-1.6,-1.3,-1,-.75,-.5,-.25,0,.25,.5,.75,1,1.25,1.5,1.75,2.05,2.4],[3.2,-2.2,-1.75,-1.45,-1.15,-.9,-.65,-.4,-.15,.1,.35,.6,.85,1.1,1.35,1.6,1.9,2.2,3.5],[3.3,-2.6,-2,-1.65,-1.35,-1.05,-.8,-.55,-.3,-.05,.2,.45,.7,.95,1.2,1.45,1.75,2.05,2.6,2.9],
[3.4,-4.8,-3.5,-2.3,-1.85,-1.5,-1.2,-.95,-.7,-.45,-.2,.05,.3,.55,.8,1.05,1.3,1.6,1.9,2.2,3.95],[3.5,-2.1,-1.7,-1.4,-1.1,-.85,-.6,-.35,-.1,.15,.4,.65,.9,1.15,1.4,1.7,2],[3.6,-2.35,-1.9,-1.55,-1.25,-1,-.75,-.5,-.25,0,.25,.5,.75,1,1.3,1.55,1.85,2.2,3.1,3.55,2.9],[3.7,-2,-1.65,-1.35,-1.1,-.85,-.6,-.35,-.1,.15,.4,.65,.9,1.15,1.4,1.7,2.05],
[3.85,-2.55,-1.9,-1.55,-1.25,-1,-.75,-.5,-.25,0,.25,.5,.75,1,1.25,1.55,1.9,2.35],[4,-2.2,-1.75,-1.4,-1.1,-.85,-.6,-.35,-.1,.15,.4,.65,.9,1.2,1.5,1.85,2.3,3.15],[4.1,-2.4,-1.9,-1.5,-1.2,-.95,-.7,-.45,-.2,.05,.3,.55,.8,1.05,1.35,1.7,2.1,3.85],[4.25,-2.2,-1.7,-1.35,-1.05,-.8,-.55,-.3,-.05,.2,.45,.7,1,1.3,1.65,2,2.35],
[4.4,-2.55,-1.9,-1.5,-1.2,-.95,-.7,-.45,-.2,.05,.3,.55,.85,1.15,1.5,1.85,2.3],[4.55,-3.35,-2.1,-1.6,-1.25,-.95,-.65,-.4,-.15,.1,.35,.6,.9,1.25,1.6,2.1],[4.7,-2.2,-1.75,-1.4,-1.1,-.8,-.55,-.3,-.05,.2,.45,.75,1.05,1.45,1.9,2.4],[4.85,-2.45,-1.9,-1.5,-1.15,-.85,-.55,-.25,0,.25,.55,.85,1.2,1.6,2.2],
[5,-2.3,-1.7,-1.3,-1,-.7,-.4,-.1,.2,.5,.85,1.2,1.7,2.35],[5.15,-2,-1.5,-1.15,-.85,-.55,-.25,.05,.35,.7,1.05,1.5,2],[5.3,-3.2,-1.7,-1.3,-.95,-.65,-.35,0,.3,.6,1,1.45,1.9,2.7,3.15,3.8],[5.45,-1.5,-1.05,-.75,-.45,-.15,.15,.45,.8,1.2,1.65,2.1],[5.6,-2.75,-1.75,-1.2,-.85,-.5,-.2,.1,.4,.8,1.25,1.7,2.4],
[5.75,-1.4,-1,-.7,-.35,0,.35,.7,1.1,1.6],[5.9,-1.6,-1.1,-.7,-.35,0,.3,.7,1.2,1.7],[6.05,-1.45,-1,-.6,-.2,.15,.6,1.1,1.75,2.3],[6.2,-3.9,-1.7,-.9,-.4,.1,.6,1.3,2.25],[6.4,-1.7,-1.1,-.5,0,.5,1.2,2.6],[6.55,-3.1,-1.6,-.7,-.2,.4,.9,2.4],[6.7,-2.95,-1.5,-.85,-.2,.3,.75,1.3],[6.85,-2.7,-1.1,-.5,.1,.6,1.25],
[7.05,-2.6,-1.35,-.75,-.1,.5,1.2,2.2],[7.25,-1.15,-.45,.1,.75,1.3],[7.45,-.75,-.2,.35,.9,1.2],[7.55,-.95,-.4,.25,.8,1.4,1.55],[7.75,-1.3,-.65,-.1,.45,1],[7.95,-.8,-.25,.3,.8,1.1],[8.05,-1.9,-1.1,-.5,.15,.65,1.1,2.2],[8.2,-1.45,-.85,-.3,.2,.6,1],[8.4,-1.1,-.45,.05,.5,1.65],[8.55,-2.2,-.65,-.2,.35,.9],[8.65,-2.8,-.9,-.1,.3,.75],
[8.8,-2.1,-1.3,-.75,-.3,.2,.6],[8.95,-1.35,.15,.45],[9.35,.6],[9.45,.65],[9.9,.3,.6],[10.75,-.2],[11.75,-1.1,1.45],[14.7,.15,1.45],[15.2,-.95,-.05],[15.5,-1.45],[15.6,-.9],[15.65,-.05],[16.2,-.55],
[2.35,-1.35,-1.02,-.72,-.22,.27,.82,1.18,1.52],[2.55,-1.58,-1.28,-.97,-.68,-.42,-.17,.33,.58,.85,1.15,1.48],[2.75,-1.68,-1.35,-1.07,-.82,-.58,-.33,-.08,.17,.43,.68,.93,1.18,1.45,1.75],[2.95,-1.78,-1.42,-1.13,-.88,-.62,-.38,-.12,.12,.38,.62,.88,1.12,1.38,1.62,1.88],[3.15,-1.88,-1.52,-1.22,-.87,-.63,-.37,-.13,.12,.37,.62,.87,1.13,1.37,1.63,1.97],
[3.35,-1.78,-1.47,-1.18,-.92,-.68,-.42,-.18,.07,.32,.58,.83,1.08,1.33,1.6,1.92],[3.55,-1.92,-1.55,-1.25,-.97,-.73,-.47,-.23,.02,.27,.53,.78,1.03,1.28,1.55,1.85],[3.78,-1.82,-1.48,-1.18,-.92,-.67,-.43,-.17,.07,.33,.57,.82,1.07,1.33,1.62,1.98],[3.95,-1.57,-1.25,-.97,-.73,-.47,-.23,.03,.27,.53,.78,1.05,1.35,1.68],[4.18,-1.82,-1.42,-1.13,-.88,-.63,-.38,-.12,.12,.38,.62,.88,1.15,1.48],
[4.48,-1.68,-1.33,-1.08,-.82,-.58,-.33,-.08,.17,.43,.7,1,1.33,1.68],[4.78,-1.58,-1.25,-.97,-.68,-.42,-.17,.08,.33,.6,.9,1.25,1.68],[5.08,-1.42,-1.1,-.82,-.5,-.2,.1,.4,.72,1.1],[5.38,-1.2,-.9,-.55,-.25,.05,.35,.62,1.05,1.5],
[2.65,-1.3,-1.02,-.78,-.53,-.27,-.02,.23,.48,.73,.98,1.22,1.5],[2.85,-1.38,-1.13,-.88,-.63,-.38,-.13,.13,.38,.63,.88,1.13,1.38,1.65],[3.05,-1.65,-1.35,-1.08,-.83,-.58,-.32,-.08,.17,.43,.68,.93,1.18,1.43,1.7],[3.25,-1.6,-1.3,-1.03,-.78,-.52,-.28,-.02,.23,.48,.73,.98,1.23,1.48,1.75],[3.45,-1.62,-1.33,-1.07,-.82,-.57,-.32,-.07,.18,.43,.68,.93,1.18,1.43,1.72],[3.65,-1.45,-1.18,-.93,-.68,-.42,-.17,.08,.33,.58,.83,1.08,1.35,1.62],[3.9,-1.4,-1.12,-.87,-.62,-.37,-.12,.13,.38,.63,.88,1.12,1.4],[4.05,-1.65,-1.3,-1.03,-.78,-.53,-.28,-.03,.22,.47,.72,.97,1.25,1.6],[4.32,-1.45,-1.13,-.88,-.62,-.38,-.12,.12,.38,.65,.95,1.3],[4.62,-1.35,-1.05,-.78,-.52,-.28,-.02,.22,.48,.78,1.1,1.42],[4.92,-1.15,-.85,-.6,-.32,-.05,.22,.5,.8,1.15]];
const popTicksX=[2,4,6,8,10,12,14,16], popTicksY=[0,2,4,6,8,10,12,14,16,18,20], indTicksY=[2,4,6,8,10,12,14,16,18,20];
const logTicks=[0.3,0.5,0.7,1,2,3,5,10,20];
const timeTicks=[0,4,8,12,16,20,24], residTicks=[-5,-4,-3,-2,-1,0,1,2,3,4,5], predTicks=[0,2,4,6,8,10,12,14,16];
const yxA1=[[1.3,1.25],[6.8,6.8],[8.5,8.6],[9,9.2],[16.05,16.2]];
const trA1=[[1.3,1.2],[3,3.05],[5.4,5.5],[7,7],[8.6,8.9],[16.05,16.7]];
const yxA2=[[.35,.35],[9,9],[14.2,14.2],[15.1,15.1]];
const trA2=[[.35,.3],[1.3,1.3],[3,3.05],[6.5,6.6],[9.5,9.6],[15,15.4]];
const yxB1=[[1.2,1.22],[1.7,1.75],[3,3.1],[9,9.9],[14.7,15.9]];
const trB1=[[1.2,1.15],[1.7,1.72],[3,3.1],[9,10],[14.5,16.6]];
const yxB2=[[.34,.36],[1,1.02],[3,3],[10,10.3],[13.8,15]];
const trB2=[[.34,.31],[.7,.66],[1,.98],[3,3.05],[10,10.4],[13.3,15.6]];
const yxC1=[[0,0],[25.05,0]], trC1=[[0,-.02],[4,-.07],[8,-.08],[12,-.09],[16,-.1],[20,-.12],[25.05,-.2]];
const yxC2=[[1.2,0],[16.2,0]], trC2=[[1.2,.02],[6,.01],[10,.03],[14,.06],[16.2,.07]];
const studyNames=['Study 1309','Study 13370','Study 14191'], lineNames=['y=x line','Trend of median'];
const studyColors=['#15156a','#52ae2c','#93278f'];

const flat=r=>r.flatMap(([x,...ys])=>ys.map(y=>[x,y]));
const panels=[
{g:[63.5,73,355,365],t:'value',x:[-.075,16.18],y:[-.48,20.7],xt:popTicksX,yt:popTicksY,d:[popObs1309,popObs13370,popObs14191],top:popObs1309Top,l:[yxA1,trA1],xn:'ANC Population Predictions (x10⁹/L)',xp:14,yn:'ANC Observations (x10⁹/L)',yp:0,gap:24,m:10},
{g:[403.7,73,704,365],t:'value',x:[-.09,16.73],y:[-.49,20.7],xt:popTicksX,yt:indTicksY,d:[indObs1309,indObs13370,indObs14191],top:indObs1309Top,l:[yxA2,trA2],xn:'ANC Individual Predictions (x10⁹/L)',xp:24,gap:24,m:7},
{g:[61,405,355,697],t:'log',x:[.22,22.6],y:[.195,23],xt:logTicks,yt:logTicks,d:[popObs1309,popObs13370,popObs14191],top:popObs1309Top,l:[yxB1,trB1],xn:'ANC Population Predictions (x10⁹/L)',xp:6,yn:'ANC Observations (x10⁹/L)',yp:18,gap:26,m:8,fmt:v=>Number(v).toFixed(1)},
{g:[404.3,404,704,697],t:'log',x:[.22,25],y:[.195,23.2],xt:logTicks,yt:logTicks,d:[indObs1309,indObs13370,indObs14191],top:indObs1309Top,l:[yxB2,trB2],xn:'ANC Individual Predictions (x10⁹/L)',xp:0,gap:26,m:8,fmt:v=>Number(v).toFixed(1)},
{g:[63.3,772.7,355,1020.7],t:'value',x:[-.15,25.05],y:[-5.47,5.32],xt:timeTicks,yt:residTicks,d:[timeRes1309,timeRes13370,timeRes14191],top:[],l:[yxC1,trC1],xn:'Time (Weeks)',xp:4,yn:'Individual Weighted Residuals',yp:0,gap:23,m:10},
{g:[407.7,775,707.7,1020.7],t:'value',x:[-.07,16.3],y:[-5.39,5.36],xt:predTicks,yt:residTicks,d:[predRes1309,predRes13370,predRes14191],top:predRes1309Top,l:[yxC2,trC2],xn:'Population Predicted ANC (x10⁹/L)',xp:0,gap:23,m:10}];
const txt='#333333', axC='#404040', ff='"Liberation Sans",Arial,sans-serif';
const ax=(p,vals,lim,isX,name,pad)=>({type:p.t,min:lim[0],max:lim[1],logBase:10,
  axisLine:{onZero:false,lineStyle:{color:axC,width:1.6}},
  axisTick:{show:true,length:4,customValues:vals,lineStyle:{color:axC,width:1}},minorTick:{show:false},
  axisLabel:{customValues:vals,color:txt,fontSize:13,fontFamily:ff,margin:isX?6:p.m,formatter:p.fmt||(v=>String(v)),hideOverlap:false,showMinLabel:true,showMaxLabel:true},
  splitLine:{show:false},name:name||'',nameLocation:'middle',nameGap:isX?p.gap:(p.g[0]-16-6),
  nameTextStyle:{color:txt,fontSize:12.6,fontFamily:ff,padding:[0,0,0,pad||0]}});
const grid=[],xAxis=[],yAxis=[],series=[];
panels.forEach((p,i)=>{
  grid.push({left:p.g[0],top:p.g[1],width:p.g[2]-p.g[0],height:p.g[3]-p.g[1],containLabel:false,outerBoundsMode:'none'});
  xAxis.push({...ax(p,p.xt,p.x,true,p.xn,p.xp),gridIndex:i});
  yAxis.push({...ax(p,p.yt,p.y,false,p.yn,p.yp),gridIndex:i});
  const ln=(idx,style)=>({type:'line',name:lineNames[idx],xAxisIndex:i,yAxisIndex:i,data:p.l[idx],symbol:'none',silent:true,lineStyle:style,z:idx?2.2:2.1,itemStyle:{color:style.color}});
  series.push(ln(0,{color:'#111',width:i===4?2:1.6,type:'solid'}),ln(1,{color:'#f7941d',width:2.2,type:[1.7,1.3]}));
  const dots=(k,rows,z)=>({type:'scatter',name:studyNames[k],xAxisIndex:i,yAxisIndex:i,data:flat(rows),symbol:'circle',symbolSize:3.1,silent:true,z,itemStyle:{color:studyColors[k],opacity:1}});
  [0,2,1].forEach((k,o)=>series.push(dots(k,p.d[k],3+o*.1)));
  if(p.top.length) series.push(dots(0,p.top,3.5));
});
const labels=[['(a)',70],['(b)',401],['(c)',769]].map(([t,y])=>({type:'text',left:1,top:y-7,style:{text:t,font:'bold 13px '+ff,fill:'#222'}}));
const chart=echarts.init(document.getElementById('c'),null,{renderer:'canvas',width:709,height:1058});
chart.setOption({animation:false,backgroundColor:'#fff',grid,xAxis,yAxis,series,graphic:labels,tooltip:{show:false},
 legend:[
  {orient:'vertical',left:439.7,top:1,itemGap:5,itemWidth:4.5,itemHeight:13,icon:'circle',data:studyNames,selectedMode:false,padding:0,textStyle:{fontSize:13.3,color:txt,fontFamily:ff,padding:[0,0,0,2]}},
  {orient:'vertical',left:537,top:2,itemGap:5,itemWidth:14.5,itemHeight:15,data:lineNames,selectedMode:false,padding:0,itemStyle:{color:'transparent',opacity:0,borderWidth:0},textStyle:{fontSize:13.6,color:txt,fontFamily:ff}}]});
</script></body></html>
